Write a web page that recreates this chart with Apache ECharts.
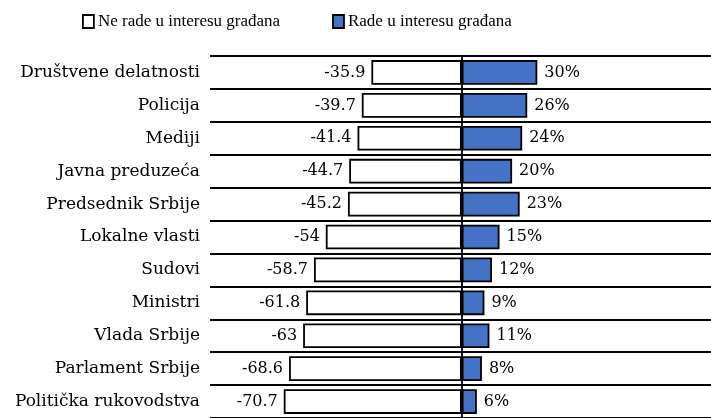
<!DOCTYPE html>
<html>
<head>
<meta charset="utf-8">
<script src="https://cdn.jsdelivr.net/npm/echarts@6/dist/echarts.min.js"></script>
<style>
  html, body { margin: 0; padding: 0; background: #fff; }
  #chart { width: 711px; height: 418px; }
</style>
</head>
<body>
<div id="chart"></div>
<script>
const categories = ['Društvene delatnosti', 'Policija', 'Mediji', 'Javna preduzeća', 'Predsednik Srbije',
  'Lokalne vlasti', 'Sudovi', 'Ministri', 'Vlada Srbije', 'Parlament Srbije', 'Politička rukovodstva']
const notInInterest = [-35.9, -39.7, -41.4, -44.7, -45.2, -54, -58.7, -61.8, -63, -68.6, -70.7]
const inInterest = [30, 26, 24, 20, 23, 15, 12, 9, 11, 8, 6]

const font = 'DejaVu Serif'

const chart = echarts.init(document.getElementById('chart'))

chart.setOption({
  animation: false,
  textStyle: { fontFamily: font, color: '#000' },
  legend: {
    left: 77,
    top: 8,
    itemGap: 52,
    itemWidth: 11,
    itemHeight: 13,
    textStyle: { fontFamily: 'Liberation Serif', fontSize: 17, color: '#000', padding: [0, 0, 0, -1] },
    data: [
      { name: 'Ne rade u interesu građana', icon: 'rect', itemStyle: { color: '#fff', borderColor: '#000', borderWidth: 1.8 } },
      { name: 'Rade u interesu građana', icon: 'rect', itemStyle: { color: '#4472c4', borderColor: '#000', borderWidth: 1.8 } }
    ]
  },
  grid: {
    left: 210,
    right: 0,
    top: 56,
    height: 367
  },
  xAxis: {
    type: 'value',
    min: -100,
    max: 99,
    show: false
  },
  yAxis: {
    type: 'category',
    inverse: true,
    data: categories,
    axisLine: { show: false },
    axisTick: { show: false },
    axisLabel: { fontFamily: font, fontSize: 17, color: '#000', margin: 10 },
    splitLine: { show: true, lineStyle: { color: '#000', width: 1.8 } }
  },
  series: [
    {
      name: 'Ne rade u interesu građana',
      type: 'bar',
      barWidth: '75%',
      barGap: '-100%',
      data: notInInterest,
      itemStyle: { color: '#fff', borderColor: '#000', borderWidth: 1.8 },
      label: {
        show: true,
        position: 'left',
        distance: 6,
        fontFamily: font,
        fontSize: 16,
        color: '#000'
      },
      markLine: {
        silent: true,
        symbol: 'none',
        label: { show: false },
        lineStyle: { color: '#000', width: 1.8, type: 'solid' },
        data: [{ xAxis: 0 }]
      }
    },
    {
      name: 'Rade u interesu građana',
      type: 'bar',
      barWidth: '75%',
      data: inInterest,
      itemStyle: { color: '#4472c4', borderColor: '#000', borderWidth: 1.8 },
      label: {
        show: true,
        position: 'right',
        distance: 7,
        fontFamily: font,
        fontSize: 16,
        color: '#000',
        formatter: p => p.value + '%'
      }
    }
  ]
})
</script>
</body>
</html>
